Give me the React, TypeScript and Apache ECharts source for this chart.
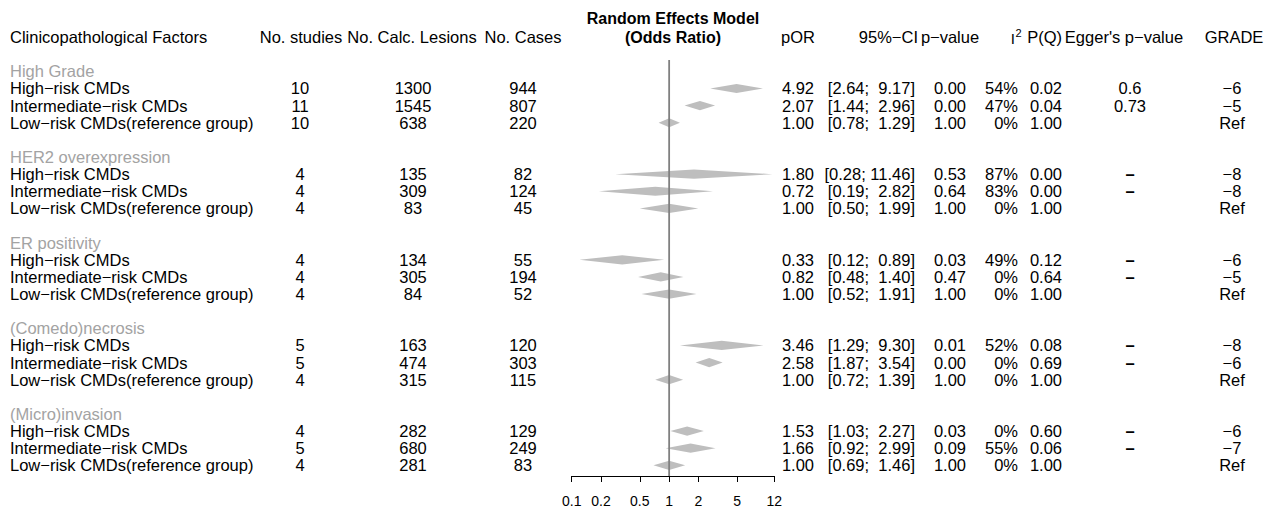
import React, { useEffect, useRef } from "react";
import * as echarts from "echarts";

// ---------- data ----------
const groups = ["High Grade", "HER2 overexpression", "ER positivity", "(Comedo)necrosis", "(Micro)invasion"];
const subgroups = ["High\u2212risk CMDs", "Intermediate\u2212risk CMDs", "Low\u2212risk CMDs(reference group)"];
const studies = [[10, 11, 10], [4, 4, 4], [4, 4, 4], [5, 5, 4], [4, 5, 4]];
const lesions = [[1300, 1545, 638], [135, 309, 83], [134, 305, 84], [163, 474, 315], [282, 680, 281]];
const cases = [[944, 807, 220], [82, 124, 45], [55, 194, 52], [120, 303, 115], [129, 249, 83]];
const pOR = [[4.92, 2.07, 1.0], [1.8, 0.72, 1.0], [0.33, 0.82, 1.0], [3.46, 2.58, 1.0], [1.53, 1.66, 1.0]];
const ciLow = [[2.64, 1.44, 0.78], [0.28, 0.19, 0.5], [0.12, 0.48, 0.52], [1.29, 1.87, 0.72], [1.03, 0.92, 0.69]];
const ciHigh = [[9.17, 2.96, 1.29], [11.46, 2.82, 1.99], [0.89, 1.4, 1.91], [9.3, 3.54, 1.39], [2.27, 2.99, 1.46]];
const pValues = [[0.0, 0.0, 1.0], [0.53, 0.64, 1.0], [0.03, 0.47, 1.0], [0.01, 0.0, 1.0], [0.03, 0.09, 1.0]];
const i2 = [[54, 47, 0], [87, 83, 0], [49, 0, 0], [52, 0, 0], [0, 55, 0]];
const pQ = [[0.02, 0.04, 1.0], [0.0, 0.0, 1.0], [0.12, 0.64, 1.0], [0.08, 0.69, 1.0], [0.6, 0.06, 1.0]];
const egger = [["0.6", "0.73", ""], ["\u2013", "\u2013", ""], ["\u2013", "\u2013", ""], ["\u2013", "\u2013", ""], ["\u2013", "\u2013", ""]];
const grade = [["\u22126", "\u22125", "Ref"], ["\u22128", "\u22128", "Ref"], ["\u22126", "\u22125", "Ref"], ["\u22128", "\u22126", "Ref"], ["\u22126", "\u22127", "Ref"]];
const axisTicks = [0.1, 0.2, 0.5, 1, 2, 5, 12];
const refValue = 1;

// ---------- layout ----------
const W = 1265;
const H = 510;
const ROW0_Y = 37.1;
const ROW_H = 17.13;
const AXIS_Y = 476;
const REF_TOP_Y = 60;
const FONT = '"Liberation Sans", Arial, Helvetica, sans-serif';
const FS = 16.5;
const GREY = "#a3a3a3";
const DIAMOND = "#bebebe";

type Cell = { x: number; k: number; text: string; align: string; color?: string; bold?: boolean; size?: number; dy?: number };

const fmt2 = (v: number) => v.toFixed(2);
const padLeft = (s: string, n: number) => {
  let r = s;
  while (r.length < n) r = "\u00a0" + r;
  return r;
};

function buildCells(): Cell[] {
  const cells: Cell[] = [];
  const hk = 0;
  cells.push({ x: 10, k: hk, text: "Clinicopathological Factors", align: "left" });
  cells.push({ x: 301, k: hk, text: "No. studies", align: "center" });
  cells.push({ x: 412, k: hk, text: "No. Calc. Lesions", align: "center" });
  cells.push({ x: 523, k: hk, text: "No. Cases", align: "center" });
  cells.push({ x: 673, k: -1.06, text: "Random Effects Model", align: "center", bold: true, size: 16 });
  cells.push({ x: 673, k: hk, text: "(Odds Ratio)", align: "center", bold: true, size: 16 });
  cells.push({ x: 815, k: hk, text: "pOR", align: "right" });
  cells.push({ x: 918, k: hk, text: "95%\u2212CI", align: "right" });
  cells.push({ x: 950, k: hk, text: "p\u2212value", align: "center" });
  cells.push({ x: 1015, k: hk, text: "I", align: "right", dy: 1.5, size: 15 });
  cells.push({ x: 1015.5, k: hk, text: "2", align: "left", dy: -4, size: 11 });
  cells.push({ x: 1062, k: hk, text: "P(Q)", align: "right" });
  cells.push({ x: 1124, k: hk, text: "Egger's p\u2212value", align: "center" });
  cells.push({ x: 1234, k: hk, text: "GRADE", align: "center" });

  groups.forEach((g, gi) => {
    const gk = 2 + gi * 5;
    cells.push({ x: 10, k: gk, text: g, align: "left", color: GREY });
    subgroups.forEach((s, si) => {
      const k = gk + 1 + si;
      cells.push({ x: 10, k, text: s, align: "left" });
      cells.push({ x: 300, k, text: String(studies[gi][si]), align: "center" });
      cells.push({ x: 413, k, text: String(lesions[gi][si]), align: "center" });
      cells.push({ x: 523, k, text: String(cases[gi][si]), align: "center" });
      cells.push({ x: 814, k, text: fmt2(pOR[gi][si]), align: "right" });
      const ci = "[" + fmt2(ciLow[gi][si]) + ";\u00a0" + padLeft(fmt2(ciHigh[gi][si]), 5) + "]";
      cells.push({ x: 915, k, text: ci, align: "right" });
      cells.push({ x: 950, k, text: fmt2(pValues[gi][si]), align: "center" });
      cells.push({ x: 1018, k, text: i2[gi][si] + "%", align: "right" });
      cells.push({ x: 1062, k, text: fmt2(pQ[gi][si]), align: "right" });
      const e = egger[gi][si];
      if (e) cells.push({ x: 1130, k, text: e, align: "center", bold: e === "\u2013" });
      cells.push({ x: 1232, k, text: grade[gi][si], align: "center" });
    });
  });
  return cells;
}

export default function App() {
  const ref = useRef<HTMLDivElement>(null);

  useEffect(() => {
    if (!ref.current) return;
    const chart = echarts.init(ref.current, null, { renderer: "svg" });
    const cells = buildCells();

    const diamonds: number[][] = [];
    groups.forEach((_, gi) => {
      subgroups.forEach((__, si) => {
        diamonds.push([ciLow[gi][si], pOR[gi][si], ciHigh[gi][si], 3 + gi * 5 + si]);
      });
    });

    const yMinA = -ROW0_Y / ROW_H;
    const yMaxA = (AXIS_Y - ROW0_Y) / ROW_H;
    const yMinB = -ROW0_Y / ROW_H;
    const yMaxB = (H - ROW0_Y) / ROW_H;
    const refTopK = (REF_TOP_Y - ROW0_Y) / ROW_H;

    const option: any = {
      animation: false,
      backgroundColor: "#ffffff",
      grid: [
        { left: 571.7, width: 202.6, top: 0, height: AXIS_Y, containLabel: false },
        { left: 0, width: W, top: 0, height: H, containLabel: false },
      ],
      xAxis: [
        {
          gridIndex: 0,
          type: "log",
          logBase: 10,
          min: 0.1,
          max: 12,
          position: "bottom",
          axisLine: { show: true, onZero: false, lineStyle: { color: "#000", width: 1 } },
          axisTick: { show: true, length: 6, customValues: axisTicks, lineStyle: { color: "#000", width: 1 } },
          axisLabel: {
            show: true,
            customValues: axisTicks,
            color: "#000",
            fontSize: 14,
            fontFamily: FONT,
            margin: 18,
            formatter: (v: number) => String(+Number(v).toPrecision(3)),
          },
          splitLine: { show: false },
          minorTick: { show: false },
        },
        { gridIndex: 1, type: "value", min: 0, max: W, show: false },
      ],
      yAxis: [
        { gridIndex: 0, type: "value", inverse: true, min: yMinA, max: yMaxA, show: false },
        { gridIndex: 1, type: "value", inverse: true, min: yMinB, max: yMaxB, show: false },
      ],
      series: [
        {
          type: "custom",
          xAxisIndex: 0,
          yAxisIndex: 0,
          clip: false,
          z: 2,
          data: diamonds,
          encode: { x: [0, 1, 2], y: 3 },
          renderItem: (params: any, api: any) => {
            const k = api.value(3);
            const l = api.coord([api.value(0), k]);
            const m = api.coord([api.value(1), k]);
            const h = api.coord([api.value(2), k]);
            const hh = 4.6;
            return {
              type: "polygon",
              shape: { points: [[l[0], m[1]], [m[0], m[1] - hh], [h[0], m[1]], [m[0], m[1] + hh]] },
              style: { fill: DIAMOND, stroke: null },
            };
          },
        },
        {
          type: "custom",
          xAxisIndex: 0,
          yAxisIndex: 0,
          clip: false,
          z: 3,
          data: [[refValue, refTopK, yMaxA]],
          encode: { x: 0, y: [1, 2] },
          renderItem: (params: any, api: any) => {
            const a = api.coord([api.value(0), api.value(1)]);
            const b = api.coord([api.value(0), api.value(2)]);
            return {
              type: "line",
              shape: { x1: a[0], y1: a[1], x2: b[0], y2: b[1] },
              style: { stroke: "#808080", lineWidth: 1.8 },
            };
          },
        },
        {
          type: "custom",
          xAxisIndex: 1,
          yAxisIndex: 1,
          clip: false,
          z: 4,
          data: cells.map((c, i) => [c.x, c.k, i]),
          encode: { x: 0, y: 1 },
          renderItem: (params: any, api: any) => {
            const c = cells[params.dataIndex];
            const p = api.coord([c.x, c.k]);
            return {
              type: "text",
              x: p[0],
              y: p[1] + (c.dy || 0),
              style: {
                text: c.text,
                fill: c.color || "#000",
                fontSize: c.size || FS,
                fontFamily: FONT,
                fontWeight: c.bold ? "bold" : "normal",
                align: c.align,
                verticalAlign: "middle",
              },
            };
          },
        },
      ],
    };

    chart.setOption(option);
    return () => chart.dispose();
  }, []);

  return (
    <div
      ref={ref}
      style={{ position: "fixed", left: 0, top: 0, width: W, height: H, background: "#fff" }}
    />
  );
}
